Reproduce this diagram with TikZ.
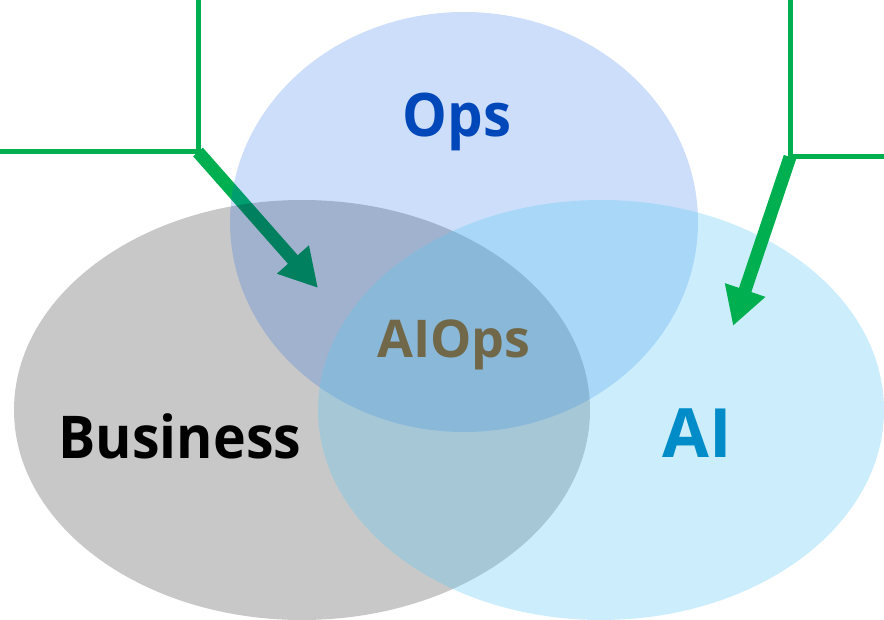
\documentclass[tikz,border=0pt]{standalone}
\usepackage{fontspec}
\setmainfont{Open Sans}
\usetikzlibrary{arrows.meta}

\definecolor{pointer}{RGB}{0,176,80}
\definecolor{opsfill}{RGB}{0,90,230}
\definecolor{aifill}{RGB}{90,200,245}
\definecolor{opstext}{RGB}{0,72,186}
\definecolor{aiopstext}{RGB}{112,104,72}
\definecolor{aitext}{RGB}{0,140,200}

\tikzset{
  thinline/.style={draw=pointer, line width=5pt},
  bigarrow/.style={draw=pointer, line width=13pt,
    -{Triangle[length=38pt,width=40pt]}},
  label/.style={inner sep=0pt, anchor=base}
}

\begin{document}
\begin{tikzpicture}[x=1pt,y=-1pt]
  \useasboundingbox (0,0) rectangle (884,620);

  % corner points of the two bracket lines
  \coordinate (lcorner) at (198,152);
  \coordinate (ltop) at (198,0);
  \coordinate (lleft) at (0,152);
  \coordinate (ltip) at (318,288);

  \coordinate (rcorner) at (790,157);
  \coordinate (rtop) at (790,0);
  \coordinate (rright) at (884,157);
  \coordinate (rtip) at (733,326);

  % left bracket and its arrow, under the sets
  \draw[thinline] (ltop) -- (lcorner) -- (lleft);
  \draw[bigarrow] (lcorner) -- (ltip);

  % the three sets
  \fill[black, opacity=0.215] (302,410) ellipse [x radius=288pt, y radius=210pt];
  \fill[opsfill, opacity=0.2] (464,222) ellipse [x radius=234pt, y radius=210pt];
  \fill[aifill, opacity=0.31] (601,410) ellipse [x radius=283pt, y radius=210pt];

  % right bracket and its arrow, over the sets
  \draw[thinline] (rtop) -- (rcorner) -- (rright);
  \draw[bigarrow] (rcorner) -- (rtip);

  % set labels
  \node[label, text=opstext, font=\bfseries\fontsize{60}{60}\selectfont] (ops) at (457,137) {\scalebox{0.94}[1]{Ops}};
  \node[label, text=aiopstext, font=\bfseries\fontsize{52}{52}\selectfont] (aiops) at (454,358) {AIOps};
  \node[label, text=black, font=\bfseries\fontsize{59}{59}\selectfont] (business) at (180,458) {\scalebox{0.94}[1]{Business}};
  \node[label, text=aitext, font=\bfseries\fontsize{68}{68}\selectfont] (ai) at (697,457) {AI};
\end{tikzpicture}
\end{document}
